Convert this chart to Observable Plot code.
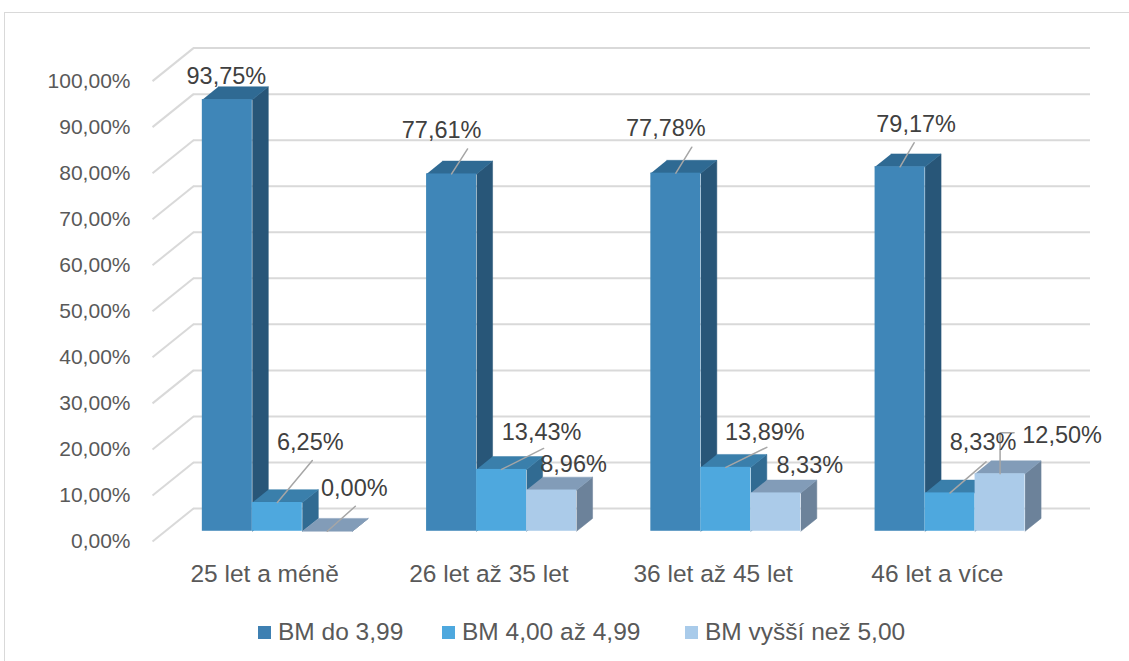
<!DOCTYPE html>
<html>
<head>
<meta charset="utf-8">
<script src="https://cdn.jsdelivr.net/npm/d3@7"></script>
<script src="https://cdn.jsdelivr.net/npm/@observablehq/plot@0.6"></script>
<style>
  html, body { margin: 0; padding: 0; background: #fff; overflow: hidden; }
  #wrap { position: relative; width: 1129px; height: 661px; font-family: 'Liberation Sans'; }
  #frame { position: absolute; left: 4px; top: 12px; width: 1200px; height: 700px; border: 1px solid #d9d9d9; box-sizing: border-box; }
  #chart { position: absolute; left: 0; top: 0; }
  #legend { position: absolute; left: 0; top: 617px; width: 1129px; height: 30px; font-size: 24.5px; color: #595959; white-space: nowrap; }
  .item { position: absolute; top: 0; display: flex; align-items: center; gap: 7px; height: 30px; }
  .sw { width: 13px; height: 13px; display: inline-block; }
</style>
</head>
<body>
<div id="wrap">
  <div id="frame"></div>
  <div id="chart"></div>
  <div id="legend"></div>
</div>
<script>
// ---- data ----
const categories = ["25 let a méně", "26 let až 35 let", "36 let až 45 let", "46 let a více"];
const seriesNames = ["BM do 3,99", "BM 4,00 až 4,99", "BM vyšší než 5,00"];
const bmDo399 = [93.75, 77.61, 77.78, 79.17];
const bm400to499 = [6.25, 13.43, 13.89, 8.33];
const bmOver500 = [0.00, 8.96, 8.33, 12.50];
const yTicks = [0, 10, 20, 30, 40, 50, 60, 70, 80, 90, 100];

// ---- styles ----
const FONT = "Liberation Sans";
const frontColors = ["#3f86b8", "#4ea8de", "#abcbe9"];
const topColors   = ["#2f6a93", "#3a7fab", "#829cb8"];
const sideColors  = ["#285678", "#316b92", "#6c829a"];
const legendColors = ["#3e80b2", "#4ea8de", "#a9cbea"];
const legendLeft = [258, 442, 685];
// label placement (px from front-top centre of each bar), [series][group]
const labelOffsets = [
  [[-1, -23], [-10, -43], [-10, -45], [16, -42]],
  [[33, -60], [40, -37], [39, -35], [33, -50]],
  [[27, -43], [22, -26], [34, -27], [62, -38]]
];
const leaderBends = {
  "0-1": [[16, -25]], "0-2": [[16, -26]], "0-3": [[14, -24]],
  "1-0": [[35, -42]], "1-1": [[42, -21]], "1-2": [[41, -20]], "1-3": [[36, -31]],
  "2-0": [[28, -25]], "2-3": [[0, -41], [14, -41]]
};

const W = 1129, H = 600;
const mL = 152, mR = 80, mT = 80.6, mB = 59;
const PX = (W - mL - mR) / 4;      // px per category unit
const PY = (H - mB - mT) / 100;    // px per percent
const DX = 41 / PX, DY = 33 / PY;  // full depth of the plot box in data units
const f0 = 0.31, fd = 0.39;        // bar front position / bar depth as fractions of depth
const barW = 50 / PX;

const allSeries = [bmDo399, bm400to499, bmOver500];
const fmt = v => v.toFixed(2).replace(".", ",") + "%";

const bars = [];
allSeries.forEach((vals, s) => vals.forEach((v, g) => {
  const x1 = g + (s - 1.5) * barW + f0 * DX;
  const x2 = x1 + barW;
  const y1 = f0 * DY;
  const y2 = v + f0 * DY;
  bars.push({s, g, v, x1, x2, y1, y2, xc: (x1 + x2) / 2});
}));

const sides = [], tops = [];
bars.forEach((b, i) => {
  const ex = fd * DX, ey = fd * DY;
  [[b.x2, b.y1], [b.x2 + ex, b.y1 + ey], [b.x2 + ex, b.y2 + ey], [b.x2, b.y2]]
    .forEach(([x, y]) => sides.push({id: i, x, y, c: sideColors[b.s]}));
  [[b.x1, b.y2], [b.x2, b.y2], [b.x2 + ex, b.y2 + ey], [b.x1 + ex, b.y2 + ey]]
    .forEach(([x, y]) => tops.push({id: i, x, y, c: topColors[b.s]}));
});

const labels = bars.map(b => {
  const [ox, oy] = labelOffsets[b.s][b.g];
  return {x: b.xc + ox / PX, y: b.y2 - oy / PY, text: fmt(b.v)};
});
const leaders = [];
bars.forEach((b, i) => {
  const bends = leaderBends[b.s + "-" + b.g];
  if (!bends) return;
  leaders.push({id: i, x: b.xc, y: b.y2});
  bends.forEach(([ox, oy]) => leaders.push({id: i, x: b.xc + ox / PX, y: b.y2 - oy / PY}));
});

const plot = Plot.plot({
  width: W, height: H,
  marginLeft: mL, marginRight: mR, marginTop: mT, marginBottom: mB,
  x: {type: "linear", domain: [-0.5, 3.5]},
  y: {domain: [0, 100]},
  color: {type: "identity"},
  style: {fontFamily: FONT, color: "#595959", background: "transparent", overflow: "visible"},
  marks: [
    Plot.ruleY(yTicks, {y: d => d + DY, x1: -0.5 + DX, x2: 3.5 + DX, stroke: "#d9d9d9", strokeWidth: 2}),
    Plot.link(yTicks, {x1: -0.5, y1: d => d, x2: -0.5 + DX, y2: d => d + DY, stroke: "#d9d9d9", strokeWidth: 2}),
    Plot.axisY({ticks: yTicks, tickSize: 0, tickPadding: 22, tickFormat: fmt, fontSize: 21, fontFamily: FONT}),
    Plot.axisX({ticks: [0, 1, 2, 3], tickSize: 0, tickPadding: 23, tickFormat: i => categories[i], fontSize: 24.5, fontFamily: FONT}),
    Plot.line(sides, {x: "x", y: "y", z: "id", fill: "c", stroke: "c", strokeWidth: 0.5}),
    Plot.line(tops, {x: "x", y: "y", z: "id", fill: "c", stroke: "c", strokeWidth: 0.5}),
    Plot.rect(bars, {x1: "x1", x2: "x2", y1: "y1", y2: "y2", fill: d => frontColors[d.s]}),
    Plot.line(leaders, {x: "x", y: "y", z: "id", stroke: "#a6a6a6", strokeWidth: 1.5}),
    Plot.text(labels, {x: "x", y: "y", text: "text", fontSize: 23.5, fill: "#404040", fontFamily: FONT})
  ]
});
document.getElementById("chart").appendChild(plot);

const legend = document.getElementById("legend");
seriesNames.forEach((name, i) => {
  const it = document.createElement("div");
  it.className = "item";
  it.style.left = legendLeft[i] + "px";
  const sw = document.createElement("span");
  sw.className = "sw";
  sw.style.background = legendColors[i];
  const tx = document.createElement("span");
  tx.textContent = name;
  it.appendChild(sw); it.appendChild(tx);
  legend.appendChild(it);
});
</script>
</body>
</html>
